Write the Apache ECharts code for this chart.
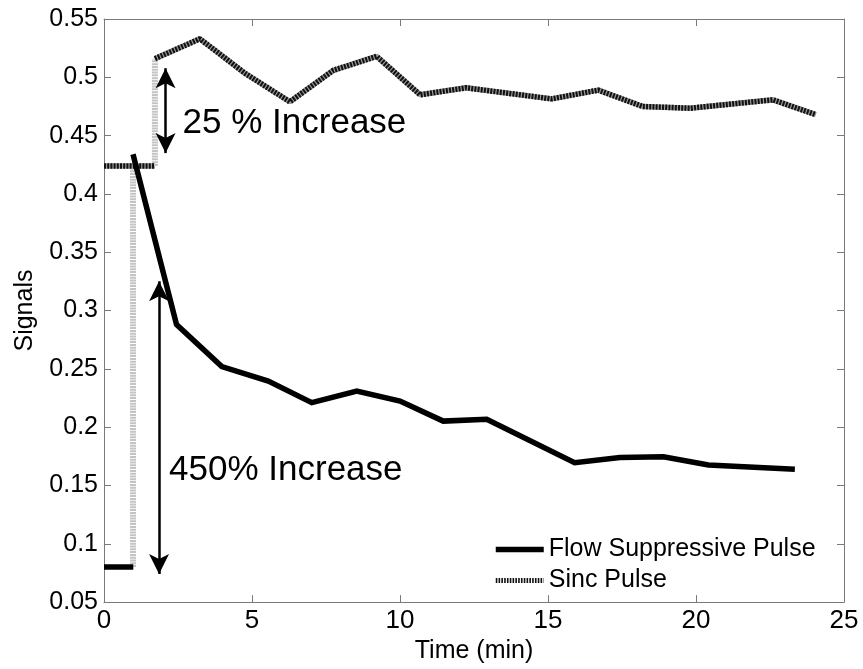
<!DOCTYPE html>
<html>
<head>
<meta charset="utf-8">
<script src="https://cdn.jsdelivr.net/npm/echarts@6/dist/echarts.min.js"></script>
<style>
html,body{margin:0;padding:0;background:#fff;}
#chart{width:863px;height:669px;}
</style>
</head>
<body>
<div id="chart"></div>
<script>
// ---- data ----
const flowPreX = [0, 0.99];
const flowPreY = [0.08, 0.08];
const flowX = [0.98, 2.45, 3.98, 5.55, 7.02, 8.54, 10.0, 11.46, 12.93, 15.9, 17.43, 18.9, 20.42, 23.34];
const flowY = [0.434, 0.288, 0.252, 0.2395, 0.221, 0.231, 0.2224, 0.2052, 0.2067, 0.1696, 0.174, 0.1747, 0.1676, 0.1639];

const sincPreX = [0, 1.72];
const sincPreY = [0.424, 0.424];
const sincX = [1.72, 3.24, 4.76, 6.28, 7.75, 9.21, 10.68, 12.23, 15.12, 16.7, 18.2, 19.8, 22.6, 24.05];
const sincY = [0.516, 0.533, 0.5035, 0.479, 0.506, 0.518, 0.485, 0.491, 0.4815, 0.489, 0.475, 0.4735, 0.4807, 0.468];

const jumpX = [0.98, 1.72];
const jumpFrom = [0.08, 0.424];
const jumpTo = [0.424, 0.516];

const arrowX = [2.08, 1.86];
const arrowTop = [0.5078, 0.3251];
const arrowBottom = [0.435, 0.074];
const arrowText = ['25 % Increase', '450% Increase'];
const textAnchorY = [0.4605, 0.164];

const xTicks = [0, 5, 10, 15, 20, 25];
const yTicks = [0.05, 0.1, 0.15, 0.2, 0.25, 0.3, 0.35, 0.4, 0.45, 0.5, 0.55];

const seriesNames = ['Flow Suppressive Pulse', 'Sinc Pulse'];

// ---- helpers ----
const zip = (xs, ys) => xs.map((x, i) => [x, ys[i]]);
const FONT = "'Liberation Sans', Arial, sans-serif";
const axisGray = '#7a7a7a';

const sincStyle = {color: '#111', width: 5.5, type: [2, 1.2], cap: 'butt'};
const sincUnder = {color: '#9a9a9a', width: 5.5, type: 'solid', cap: 'butt'};
const flowStyle = {color: '#000', width: 5.5, type: 'solid', cap: 'butt', join: 'miter'};

const series = [];
[zip(sincPreX, sincPreY), zip(sincX, sincY)].forEach(d => {
  series.push({type: 'line', name: 'sincUnder', data: d, symbol: 'none', lineStyle: sincUnder, silent: true, z: 2});
});
jumpX.forEach((x, i) => {
  series.push({type: 'line', name: 'jump', data: [[x, jumpFrom[i]], [x, jumpTo[i]]], symbol: 'none',
    lineStyle: {color: '#c4c4c4', width: 6, type: [2, 0.8], cap: 'butt'}, silent: true, z: 2});
});
series.push({type: 'line', name: seriesNames[1], data: zip(sincPreX, sincPreY), symbol: 'none', color: '#111', lineStyle: sincStyle, z: 3});
series.push({type: 'line', name: seriesNames[1], data: zip(sincX, sincY), symbol: 'none', color: '#111', lineStyle: sincStyle, z: 3});
series.push({type: 'line', name: seriesNames[0], data: zip(flowPreX, flowPreY), symbol: 'none', color: '#000', lineStyle: flowStyle, z: 4});
series.push({type: 'line', name: seriesNames[0], data: zip(flowX, flowY), symbol: 'none', color: '#000', lineStyle: flowStyle, z: 4,
  markLine: {
    silent: true,
    symbol: ['arrow', 'arrow'],
    symbolSize: [15, 20],
    label: {show: false},
    lineStyle: {color: '#000', width: 2.5, type: 'solid'},
    data: arrowX.map((x, i) => [{coord: [x, arrowTop[i]]}, {coord: [x, arrowBottom[i]]}])
  }
});

const chart = echarts.init(document.getElementById('chart'), null, {renderer: 'canvas'});
const fmt = v => String(Math.round(v * 100) / 100);

chart.setOption({
  animation: false,
  backgroundColor: '#fff',
  textStyle: {fontFamily: FONT},
  grid: {left: 104, top: 19, right: 19, bottom: 66, containLabel: false},
  legend: {
    data: [
      {name: seriesNames[0], itemStyle: {opacity: 0}, lineStyle: {color: '#000', width: 5.5, type: 'solid', cap: 'butt'}},
      {name: seriesNames[1], itemStyle: {opacity: 0}, lineStyle: {color: '#111', width: 5, type: [1.6, 1.2], cap: 'butt'}}
    ],
    orient: 'vertical',
    left: 488,
    top: 532,
    itemWidth: 48,
    itemHeight: 14,
    itemGap: 6,
    textStyle: {fontFamily: FONT, fontSize: 25, color: '#000'},
    inactiveColor: '#000'
  },
  xAxis: [
    {type: 'value', min: xTicks[0], max: xTicks[xTicks.length - 1], interval: 5, position: 'bottom',
     name: 'Time (min)', nameLocation: 'middle', nameGap: 34,
     nameTextStyle: {fontFamily: FONT, fontSize: 25, color: '#000'},
     axisLine: {show: true, onZero: false, lineStyle: {color: axisGray, width: 1}},
     axisTick: {show: true, inside: true, length: 7, lineStyle: {color: axisGray}},
     axisLabel: {fontFamily: FONT, fontSize: 26, color: '#000', margin: 6},
     splitLine: {show: false}},
    {type: 'value', min: xTicks[0], max: xTicks[xTicks.length - 1], interval: 5, position: 'top',
     axisLine: {show: true, onZero: false, lineStyle: {color: axisGray, width: 1}},
     axisTick: {show: true, inside: true, length: 7, lineStyle: {color: axisGray}},
     axisLabel: {show: false}, splitLine: {show: false}}
  ],
  yAxis: [
    {type: 'value', min: yTicks[0], max: yTicks[yTicks.length - 1], interval: 0.05, position: 'left',
     name: 'Signals', nameLocation: 'middle', nameGap: 66,
     nameTextStyle: {fontFamily: FONT, fontSize: 25, color: '#000'},
     axisLine: {show: true, onZero: false, lineStyle: {color: axisGray, width: 1}},
     axisTick: {show: true, inside: true, length: 7, lineStyle: {color: axisGray}},
     axisLabel: {fontFamily: FONT, fontSize: 25, color: '#000', margin: 6, formatter: fmt},
     splitLine: {show: false}},
    {type: 'value', min: yTicks[0], max: yTicks[yTicks.length - 1], interval: 0.05, position: 'right',
     axisLine: {show: true, onZero: false, lineStyle: {color: axisGray, width: 1}},
     axisTick: {show: true, inside: true, length: 7, lineStyle: {color: axisGray}},
     axisLabel: {show: false}, splitLine: {show: false}}
  ],
  series: series
});

const anchor0 = chart.convertToPixel({xAxisIndex: 0, yAxisIndex: 0}, [arrowX[0], textAnchorY[0]]);
const anchor1 = chart.convertToPixel({xAxisIndex: 0, yAxisIndex: 0}, [arrowX[1], textAnchorY[1]]);
chart.setOption({
  graphic: [
    {type: 'text', x: anchor0[0] + 17, y: anchor0[1], style: {text: arrowText[0], font: "35px " + FONT, fill: '#000', textVerticalAlign: 'middle'}},
    {type: 'text', x: anchor1[0] + 10, y: anchor1[1] + 1, style: {text: arrowText[1], font: "35px " + FONT, fill: '#000', textVerticalAlign: 'middle'}}
  ]
});
</script>
</body>
</html>
